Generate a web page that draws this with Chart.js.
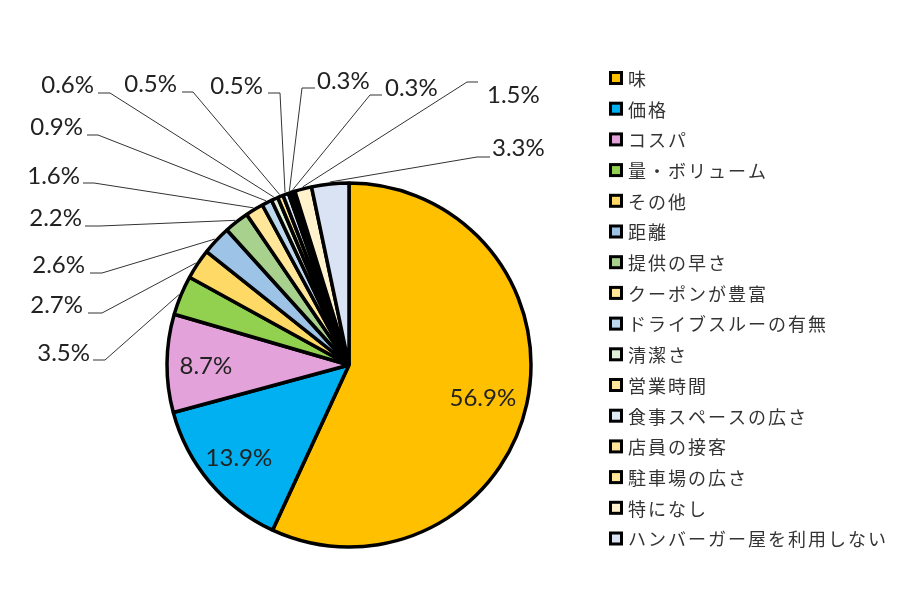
<!DOCTYPE html>
<html>
<head>
<meta charset="utf-8">
<script src="https://cdn.jsdelivr.net/npm/chart.js@4.4.1/dist/chart.umd.min.js"></script>
<style>
    body { margin: 0; background: #fff; }
    canvas { display: block; }
</style>
</head>
<body>
<canvas id="chart-reasons" width="899" height="600"></canvas>
<script>
const labels = ['味', '価格', 'コスパ', '量・ボリューム', 'その他', '距離', '提供の早さ', 'クーポンが豊富',
    'ドライブスルーの有無', '清潔さ', '営業時間', '食事スペースの広さ', '店員の接客', '駐車場の広さ',
    '特になし', 'ハンバーガー屋を利用しない'];
const shares = [56.9, 13.9, 8.7, 3.5, 2.7, 2.6, 2.2, 1.6, 0.9, 0.6, 0.5, 0.5, 0.3, 0.3, 1.5, 3.3];
const colors = ['#FFC000', '#00B0F0', '#E4A2DA', '#92D050', '#FFD966', '#9DC3E6', '#A9D18E', '#FFE699',
    '#BDD7EE', '#E2F0D9', '#FFE699', '#DEEBF7', '#FFE699', '#FFE699', '#FFF2CC', '#DAE3F3'];

/*
 * Where the outside labels sit (Excel's own arrangement).
 * jx/jy = elbow of the leader line, sx = end of the short horizontal part
 */
const labelSpots = [
    null, null, null,
    {tx: 90, ty: 353, align: 'right', jx: 105, jy: 360, sx: 93},
    {tx: 83, ty: 305, align: 'right', jx: 102, jy: 313, sx: 88},
    {tx: 85, ty: 265, align: 'right', jx: 102, jy: 273, sx: 90},
    {tx: 82, ty: 218, align: 'right', jx: 100, jy: 226, sx: 85},
    {tx: 80, ty: 176, align: 'right', jx: 94, jy: 183, sx: 83},
    {tx: 83, ty: 127, align: 'right', jx: 98, jy: 135, sx: 87},
    {tx: 94, ty: 85, align: 'right', jx: 110, jy: 93, sx: 98},
    {tx: 177, ty: 84, align: 'right', jx: 193, jy: 92, sx: 182},
    {tx: 263, ty: 86, align: 'right', jx: 280, jy: 93, sx: 268},
    {tx: 317, ty: 81, align: 'left', jx: 302, jy: 88, sx: 315},
    {tx: 385, ty: 88, align: 'left', jx: 370, jy: 95, sx: 382},
    {tx: 487, ty: 95, align: 'left', jx: 467, jy: 82, sx: 478},
    {tx: 492, ty: 148, align: 'left', jx: 477, jy: 157, sx: 490}
];

const pieAnnotations = {
    id: 'pieAnnotations',
    afterDatasetsDraw(chart) {
        const ctx = chart.ctx;
        const arcs = chart.getDatasetMeta(0).data;
        ctx.save();
        ctx.font = '24px Lato';
        ctx.fillStyle = '#222';
        ctx.strokeStyle = '#333';
        ctx.lineWidth = 1;
        ctx.textBaseline = 'middle';
        arcs.forEach((arc, i) => {
            const text = shares[i].toFixed(1) + '%';
            const p = arc.getProps(['x', 'y', 'startAngle', 'endAngle', 'outerRadius'], true);
            const mid = (p.startAngle + p.endAngle) / 2;
            const spot = labelSpots[i];
            if(!spot){
                const r = p.outerRadius * 0.77;
                ctx.textAlign = 'center';
                ctx.fillText(text, p.x + Math.cos(mid) * r - 3, p.y + Math.sin(mid) * r + 3);
                return;
            }
            const r = p.outerRadius + 2;
            ctx.beginPath();
            ctx.moveTo(p.x + Math.cos(mid) * r, p.y + Math.sin(mid) * r);
            ctx.lineTo(spot.jx, spot.jy);
            ctx.lineTo(spot.sx, spot.jy);
            ctx.stroke();
            ctx.textAlign = spot.align;
            ctx.fillText(text, spot.tx, spot.ty);
        });
        ctx.restore();
    },
    afterDraw(chart) {
        // legend on the right, drawn by hand so the pie can keep its own place
        const ctx = chart.ctx;
        ctx.save();
        ctx.font = '18px "Noto Sans CJK JP"';
        ctx.letterSpacing = '2px';
        ctx.textBaseline = 'middle';
        ctx.textAlign = 'left';
        labels.forEach((label, i) => {
            const y = 78 + i * 30.7;
            ctx.fillStyle = '#000';
            ctx.fillRect(609, y - 7, 14, 14);
            ctx.fillStyle = colors[i];
            ctx.fillRect(612, y - 4, 8, 8);
            ctx.fillStyle = '#333';
            ctx.fillText(label, 628, y + 1);
        });
        ctx.restore();
    }
};

new Chart(document.getElementById('chart-reasons'), {
    type: 'pie',
    data: {
        labels: labels,
        datasets: [{
            data: shares,
            backgroundColor: colors,
            borderColor: '#000',
            borderWidth: 3.5,
            radius: 182
        }]
    },
    options: {
        responsive: false,
        animation: false,
        layout: {
            padding: {left: 0, right: 201, top: 130, bottom: 0}
        },
        plugins: {
            legend: {display: false},
            tooltip: {enabled: false}
        }
    },
    plugins: [pieAnnotations]
});
</script>
</body>
</html>
